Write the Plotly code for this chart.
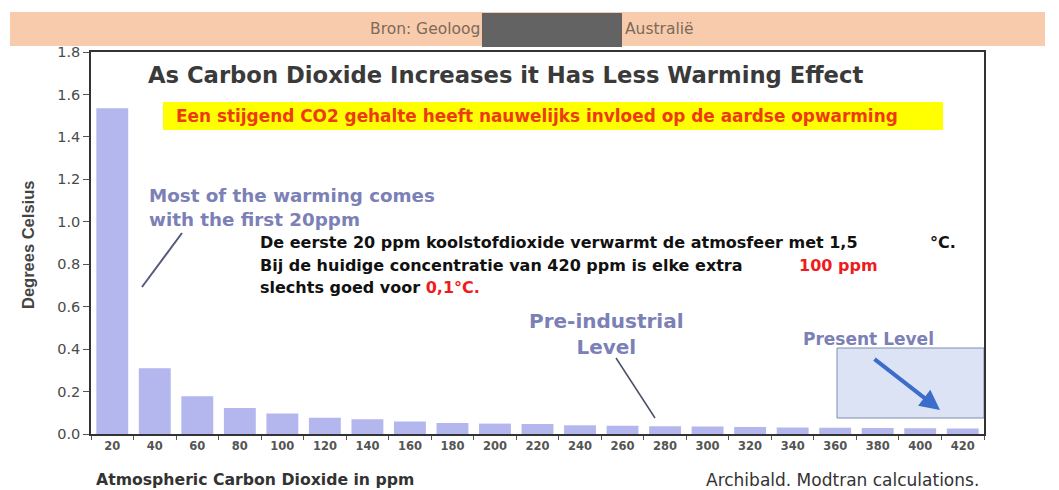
import plotly.graph_objects as go

categories = ["20", "40", "60", "80", "100", "120", "140", "160", "180", "200", "220",
              "240", "260", "280", "300", "320", "340", "360", "380", "400", "420"]
warming = [1.535, 0.31, 0.178, 0.122, 0.097, 0.077, 0.069, 0.059, 0.052, 0.049, 0.047,
           0.041, 0.039, 0.037, 0.035, 0.033, 0.031, 0.029, 0.028, 0.027, 0.026]
y_ticks = [0.0, 0.2, 0.4, 0.6, 0.8, 1.0, 1.2, 1.4, 1.6, 1.8]

W, H = 1059, 490
L, R, T, B = 91, 75, 52, 56
PW, PH = W - L - R, H - T - B


def fx(px):
    return (px - L) / PW


def fy(py):
    return (H - B - py) / PH


fig = go.Figure()
fig.add_trace(go.Bar(x=categories, y=warming, marker=dict(color="#b4b6ee", line=dict(width=0)),
                     hoverinfo="x+y"))

ANN_BLUE = "#7b80b6"
WIDE = "DejaVu Sans"
annotations = []


def txt(text, x, y, size, color, family=WIDE, xanchor="left", bold=False, **kw):
    if bold:
        text = "<b>" + text + "</b>"
    annotations.append(dict(text=text, x=fx(x), y=fy(y), xref="paper", yref="paper",
                            xanchor=xanchor, yanchor="middle", showarrow=False,
                            font=dict(size=size, color=color, family=family), **kw))


# banner
txt("Bron: Geoloog", 482, 29, 15.5, "#7d6a58", xanchor="right")
txt("Australië", 623, 29, 15.5, "#7d6a58", xanchor="left")

# title
txt("As Carbon Dioxide Increases it Has Less Warming Effect", 146, 75, 22.7, "#3a3a3a", bold=True)
# yellow subtitle
txt("Een stijgend CO2 gehalte heeft nauwelijks invloed op de aardse opwarming", 174, 116, 16.9,
    "#ee3a10", bold=True)

# left annotation
txt("Most of the warming comes<br>with the first 20ppm", 147, 207, 18.3, ANN_BLUE,
    bold=True, align="left")

# Dutch text
txt("De eerste 20 ppm koolstofdioxide verwarmt de atmosfeer met 1,5", 258, 242, 16, "#111111",
    bold=True)
txt("°C.", 928, 242, 16, "#111111", bold=True)
txt("Bij de huidige concentratie van 420 ppm is elke extra", 258, 265, 16, "#111111",
    bold=True)
txt("100 ppm", 797, 265, 16, "#ee1c1c", bold=True)
txt("slechts goed voor <span style='color:#ee1c1c'>0,1°C.</span>", 258, 287, 16, "#111111",
    bold=True)

txt("Pre-industrial<br>Level", 606, 334, 20, ANN_BLUE, xanchor="center", bold=True)
txt("Present Level", 868, 339, 17, ANN_BLUE, xanchor="center", bold=True)

# axis titles / source
txt("Atmospheric Carbon Dioxide in ppm", 94, 479, 15.7, "#333333", bold=True)
txt("Archibald. Modtran calculations.", 981, 480, 17, "#333333", xanchor="right")
annotations.append(dict(text="<b>Degrees Celsius</b>", x=fx(28), y=fy(245), xref="paper",
                        yref="paper", textangle=-90, showarrow=False, xanchor="center",
                        yanchor="middle",
                        font=dict(size=16.5, color="#444444", family="Liberation Sans")))

# blue arrow
annotations.append(dict(x=fx(940), y=fy(410), xref="paper", yref="paper", ax=873 - 940,
                        ay=358 - 410, axref="pixel", ayref="pixel", text="", showarrow=True,
                        arrowhead=2, arrowsize=1, arrowwidth=4, arrowcolor="#3b6dca"))

shapes = [
    dict(type="rect", xref="paper", yref="paper", x0=fx(10), x1=fx(1045), y0=fy(46), y1=fy(12),
         fillcolor="#f8cbad", line=dict(width=0), layer="below"),
    dict(type="rect", xref="paper", yref="paper", x0=fx(482), x1=fx(622), y0=fy(47), y1=fy(13),
         fillcolor="#636363", line=dict(width=0)),
    dict(type="rect", xref="paper", yref="paper", x0=fx(163), x1=fx(943), y0=fy(130), y1=fy(102),
         fillcolor="#ffff00", line=dict(width=0), layer="below"),
    dict(type="line", xref="paper", yref="paper", x0=fx(142), y0=fy(287), x1=fx(182), y1=fy(233),
         line=dict(color="#555a80", width=2)),
    dict(type="line", xref="paper", yref="paper", x0=fx(616), y0=fy(358), x1=fx(655), y1=fy(418),
         line=dict(color="#4a4e66", width=1.5)),
    dict(type="rect", xref="paper", yref="paper", x0=fx(837), x1=fx(984), y0=fy(418), y1=fy(348),
         fillcolor="#dce3f5", line=dict(color="#7d8cae", width=1), layer="below"),
]

fig.update_layout(
    width=W, height=H,
    margin=dict(l=L, r=R, t=T, b=B, pad=0),
    paper_bgcolor="white", plot_bgcolor="white",
    showlegend=False, bargap=0.25,
    annotations=annotations, shapes=shapes,
    font=dict(family=WIDE),
)
fig.update_xaxes(type="category", range=[-0.5, 20.5], showline=True, linecolor="#333333",
                 linewidth=1.5, mirror=True, ticks="outside", tickson="boundaries", ticklen=4,
                 tickcolor="#555555", showgrid=False, zeroline=False,
                 tickfont=dict(size=11.5, color="#555555", family=WIDE),
                 tickprefix="<b>", ticksuffix="</b>")
fig.update_yaxes(range=[0, 1.8], tickvals=y_ticks, tickformat=".1f", showline=True,
                 linecolor="#333333", linewidth=1.5, mirror=True, ticks="outside", ticklen=6,
                 tickcolor="#555555", showgrid=False, zeroline=False,
                 tickfont=dict(size=14.5, color="#4a4a4a", family=WIDE),
                 tickprefix="<b>", ticksuffix="</b>")

fig.write_html("out.html", config={"displayModeBar": False},
               post_script="document.body.style.margin='0';document.body.style.padding='0';")
